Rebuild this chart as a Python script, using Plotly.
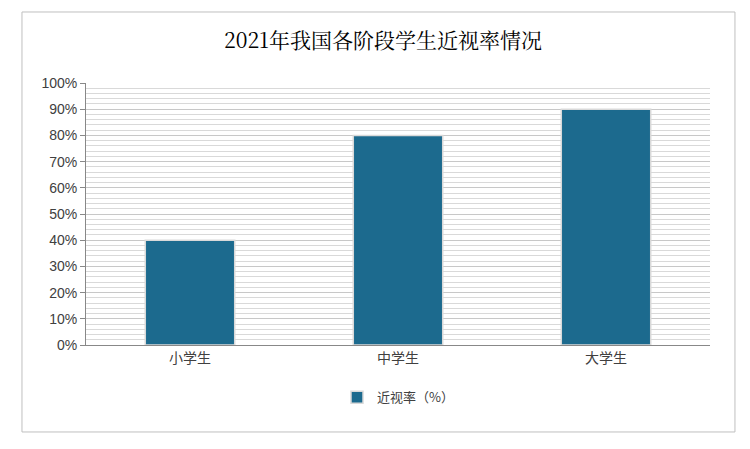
import plotly.graph_objects as go

categories = ["小学生", "中学生", "大学生"]
values = [40, 80, 90]
series_name = "近视率（%）"
title = "2021年我国各阶段学生近视率情况"

fig = go.Figure()
fig.add_bar(x=categories, y=values, name=series_name, marker_color="#1c6a8e",
            marker_line=dict(color="#d9d9d9", width=1.5), width=0.43)
fig.update_layout(
    width=750, height=449, paper_bgcolor="white", plot_bgcolor="white",
    margin=dict(l=78, r=48, t=75, b=112),
    title=dict(text=title, x=0.5, y=0.927, xanchor="center", yanchor="middle",
               font=dict(family="Noto Serif CJK SC, Noto Sans CJK SC", size=21, color="black")),
    font=dict(family="Noto Sans CJK SC, DejaVu Sans", size=13, color="#404040"),
    showlegend=True,
    legend=dict(orientation="h", x=0.5, xanchor="center", y=-0.2, yanchor="middle",
                bgcolor="white", font=dict(size=13, color="#404040")),
    bargap=0.5,
    shapes=[
        dict(type="rect", xref="paper", yref="paper", x0=-0.1026, x1=1.04, y0=-0.332, y1=1.271,
             line=dict(color="#bfbfbf", width=1), fillcolor="rgba(0,0,0,0)", layer="below"),
    ],
)
fig.update_yaxes(range=[0, 100], dtick=10, ticksuffix="%", showgrid=True, gridcolor="#c8c8c8",
                 minor=dict(dtick=2, showgrid=True, gridcolor="#d9d9d9"),
                 showline=True, linecolor="#888", ticks="outside", ticklen=5, tickcolor="#888",
                 tickfont=dict(family="Liberation Sans, Noto Sans CJK SC", size=14, color="#404040"))
fig.update_xaxes(showline=True, linecolor="#888", tickfont=dict(size=14, color="#404040"))
fig.write_html("out.html")
